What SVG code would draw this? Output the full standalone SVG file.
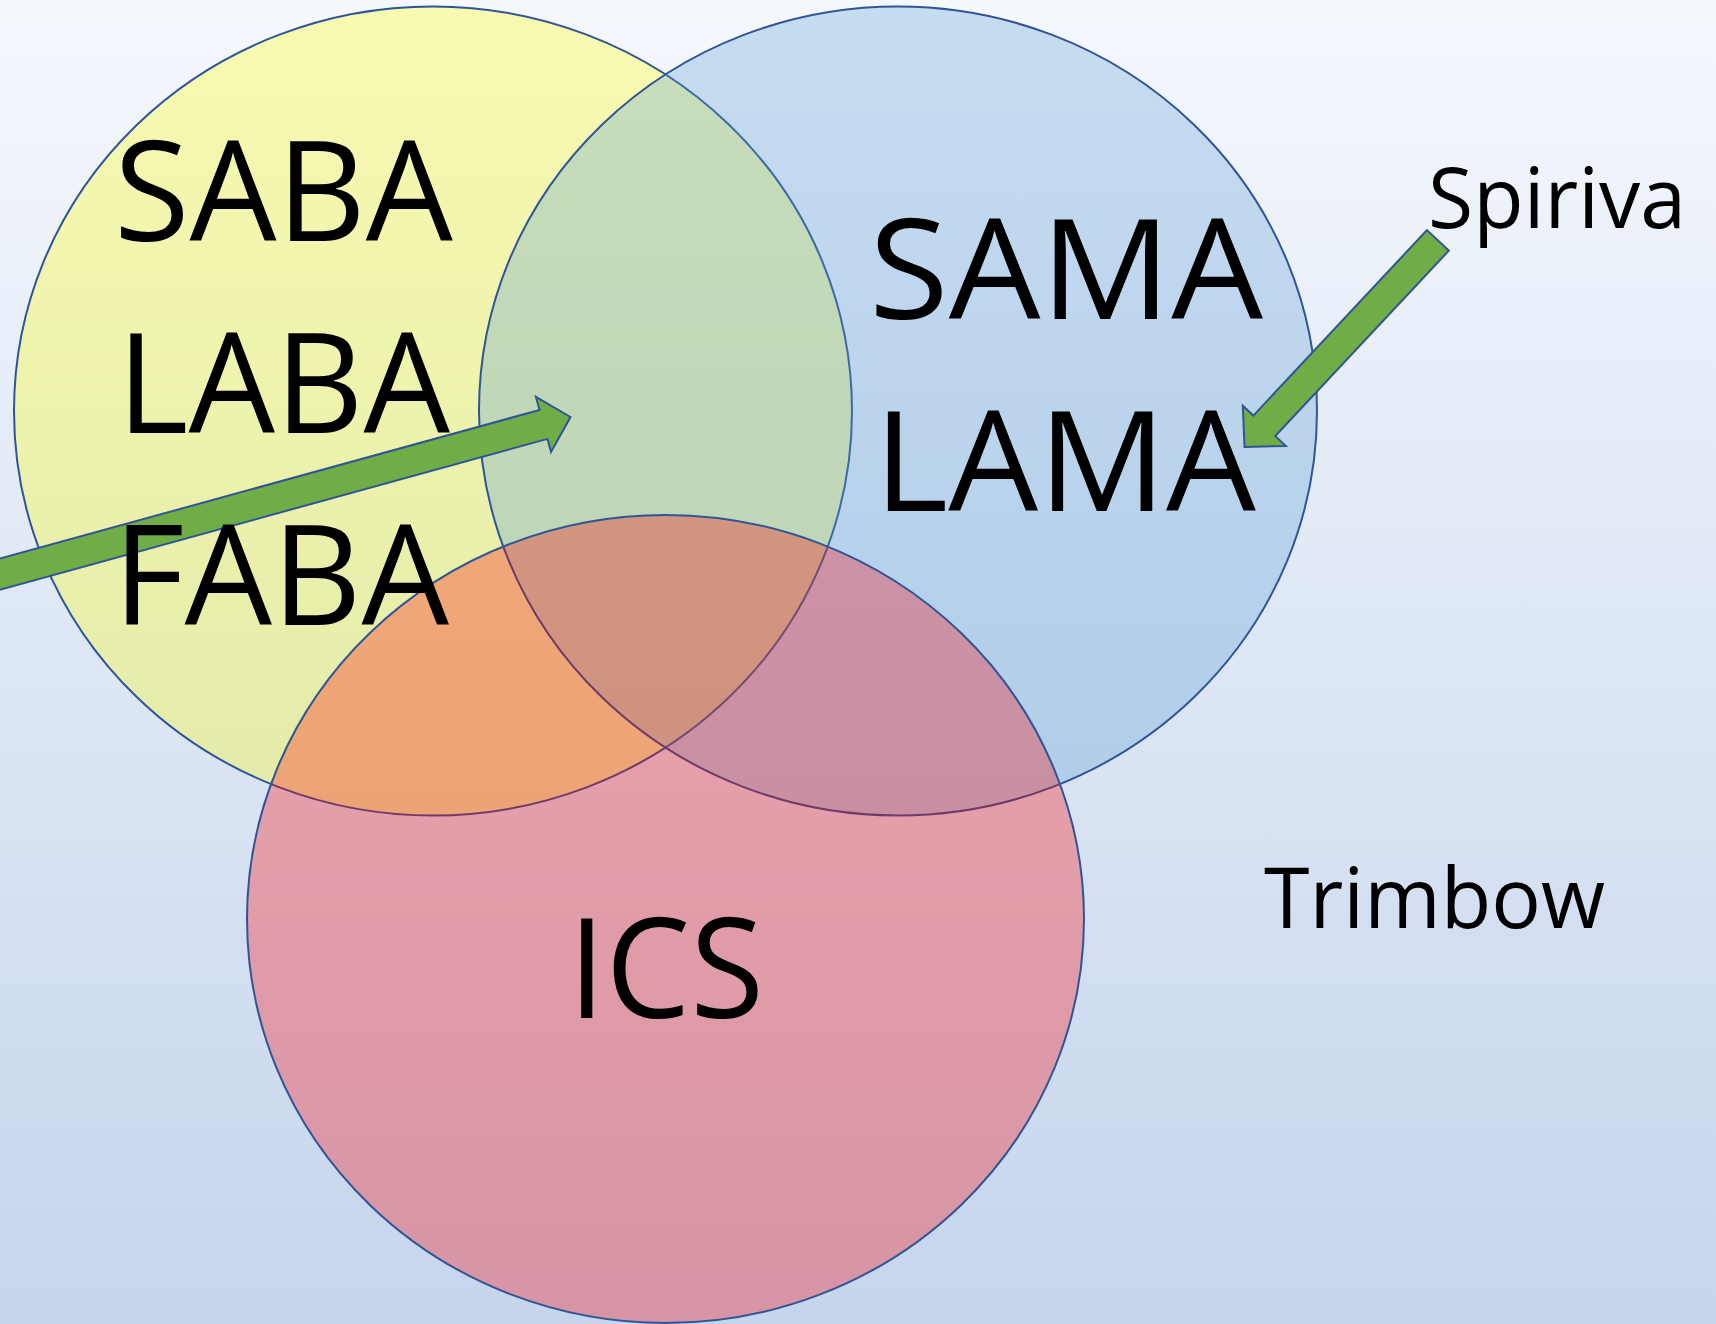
<svg xmlns="http://www.w3.org/2000/svg" width="1716" height="1324" viewBox="0 0 1716 1324">
  <defs>
    <linearGradient id="bg" x1="0" y1="0" x2="0" y2="1">
      <stop offset="0" stop-color="#F5F8FD"/>
      <stop offset="1" stop-color="#C5D5EC"/>
    </linearGradient>
    <style>
      .set { stroke: #2F5597; stroke-width: 2; fill-opacity: 0.3; }
      .arrow { fill: #70AD47; stroke: #2F5597; stroke-width: 2; stroke-linejoin: miter; }
      .big { font-family: "Open Sans", "Liberation Sans", sans-serif; font-size: 140px; fill: #000; }
      .small { font-family: "Open Sans", "Liberation Sans", sans-serif; font-size: 85px; fill: #000; }
    </style>
  </defs>
  <rect x="0" y="0" width="1716" height="1324" fill="url(#bg)"/>

  <g id="node-beta-agonists">
    <ellipse class="set" cx="433" cy="411" rx="419" ry="404.5" fill="#FFFF00"/>
  </g>
  <g id="node-muscarinic-antagonists">
    <ellipse class="set" cx="898" cy="411" rx="419" ry="404.5" fill="#5B9BD5"/>
  </g>
  <g id="node-ics">
    <ellipse class="set" cx="665.5" cy="919" rx="418.5" ry="404" fill="#FF0000"/>
  </g>

  <g id="connectors">
    <polygon class="arrow" transform="translate(570.5,417) rotate(-15.4)" points="0,0 -28,-28.5 -28,-15 -660,-15 -660,15 -28,15 -28,28.5"/>
    <polygon class="arrow" transform="translate(1244.5,447) rotate(133.1)" points="0,0 -29,-29.5 -29,-15 -283,-15 -283,15 -29,15 -29,29.5"/>
  </g>

  <g id="labels">
    <text id="t-saba" class="big" x="114" y="241" textLength="339" lengthAdjust="spacingAndGlyphs">SABA</text>
    <text id="t-laba" class="big" x="117" y="433" textLength="333" lengthAdjust="spacingAndGlyphs">LABA</text>
    <text id="t-faba" class="big" x="113" y="625" textLength="336" lengthAdjust="spacingAndGlyphs">FABA</text>
    <text id="t-sama" class="big" x="869" y="319" textLength="394" lengthAdjust="spacingAndGlyphs">SAMA</text>
    <text id="t-lama" class="big" x="874" y="511" textLength="382" lengthAdjust="spacingAndGlyphs">LAMA</text>
    <text id="t-ics" class="big" x="568" y="1018" textLength="196" lengthAdjust="spacingAndGlyphs" font-size="145">ICS</text>
  </g>
  <g id="node-spiriva">
    <text class="small" x="1428" y="228" textLength="258" lengthAdjust="spacingAndGlyphs">Spiriva</text>
  </g>
  <g id="node-trimbow">
    <text class="small" x="1264" y="928" textLength="341" lengthAdjust="spacingAndGlyphs" font-size="87">Trimbow</text>
  </g>
</svg>
